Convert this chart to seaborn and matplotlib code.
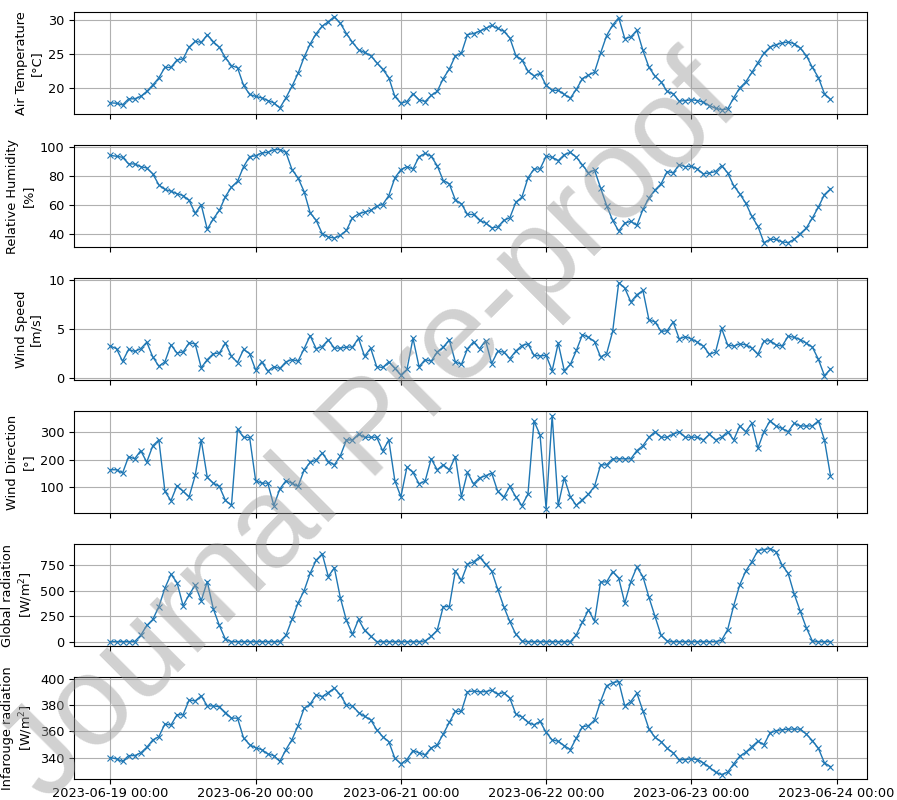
import numpy as np
import pandas as pd
import matplotlib
matplotlib.use("Agg")
import matplotlib.pyplot as plt
import matplotlib.dates as mdates
import seaborn as sns

# Hourly weather station record, 2023-06-19 00:00 to 2023-06-23 23:00
start = "2023-06-19 00:00"
n_hours = 120

air_temperature = [
    17.8, 17.75, 17.5, 18.4, 18.4, 18.75, 19.5, 20.45, 21.5, 23.05, 23.05, 24.15, 24.3, 26.05, 26.9, 26.75, 27.85, 26.85, 26.0, 24.5, 23.3, 23.0, 20.4, 19.05,
    18.75, 18.55, 18.15, 17.8, 17.05, 18.55, 20.25, 22.15, 24.55, 26.5, 28.05, 29.15, 29.8, 30.55, 29.55, 28.05, 26.75, 25.65, 25.25, 24.8, 23.75, 22.75, 21.55, 18.75,
    17.75, 18.0, 19.15, 18.25, 18.0, 18.9, 19.5, 21.4, 22.8, 24.75, 25.15, 27.9, 28.05, 28.4, 28.8, 29.25, 28.8, 28.4, 27.4, 24.8, 24.15, 22.5, 21.8, 22.15,
    20.4, 19.65, 19.65, 19.05, 18.5, 19.8, 21.4, 21.9, 22.35, 25.15, 27.75, 29.3, 30.4, 27.3, 27.55, 28.55, 25.55, 23.05, 21.75, 20.9, 19.5, 19.15, 18.05, 18.15,
    18.25, 18.15, 17.9, 17.4, 17.0, 16.8, 16.9, 18.55, 20.0, 20.9, 22.3, 23.75, 25.15, 26.05, 26.4, 26.65, 26.8, 26.55, 25.9, 24.8, 23.05, 21.55, 19.15, 18.3,
]

relative_humidity = [
    94.2, 93.6, 92.9, 88.3, 88.3, 86.4, 85.5, 81.4, 73.8, 70.6, 69.4, 67.6, 66.4, 63.0, 54.2, 60.0, 43.0, 50.3, 56.1, 65.7, 72.2, 76.3, 86.4, 93.3,
    94.0, 95.9, 96.3, 98.2, 98.2, 96.3, 84.4, 78.6, 69.2, 54.5, 49.2, 40.0, 37.7, 37.0, 38.8, 42.3, 51.0, 53.8, 54.9, 56.1, 59.1, 60.2, 66.4, 78.6,
    84.4, 86.4, 84.8, 93.3, 95.6, 93.6, 87.1, 76.8, 74.5, 63.4, 60.7, 53.3, 53.3, 49.2, 47.4, 44.1, 44.6, 49.2, 51.0, 61.8, 65.3, 78.6, 84.8, 84.8,
    93.6, 92.9, 90.6, 94.7, 96.3, 92.9, 87.6, 82.1, 84.1, 71.7, 59.5, 49.2, 41.8, 47.4, 48.5, 45.7, 56.8, 64.8, 70.3, 74.5, 83.0, 82.1, 87.8, 86.4,
    86.7, 84.8, 81.4, 82.1, 83.0, 87.1, 82.1, 73.3, 67.6, 61.1, 52.0, 45.1, 33.8, 36.1, 36.1, 34.3, 33.8, 36.1, 40.0, 43.9, 50.8, 58.4, 67.1, 71.0,
]

wind_speed = [
    3.27, 3.0, 1.73, 2.93, 2.73, 3.0, 3.67, 2.17, 1.23, 1.67, 3.4, 2.57, 2.67, 3.6, 3.5, 1.07, 1.9, 2.5, 2.57, 3.57, 2.23, 1.6, 2.93, 2.5,
    0.83, 1.67, 0.73, 1.17, 1.0, 1.67, 1.9, 1.73, 3.0, 4.33, 3.0, 3.23, 3.9, 3.07, 3.07, 3.17, 3.17, 4.07, 2.23, 3.07, 1.17, 1.1, 1.67, 1.0,
    0.33, 0.9, 4.07, 1.17, 1.9, 1.73, 2.67, 3.17, 3.9, 1.67, 1.4, 3.0, 3.7, 3.0, 3.83, 1.5, 2.73, 2.67, 2.0, 2.77, 3.33, 3.5, 2.33, 2.27,
    2.33, 0.77, 3.57, 0.77, 1.4, 2.83, 4.43, 4.17, 3.73, 2.17, 2.5, 4.77, 9.73, 9.17, 7.77, 8.5, 8.93, 5.93, 5.73, 4.77, 4.83, 5.73, 4.0, 4.23,
    4.0, 3.67, 3.27, 2.43, 2.67, 5.07, 3.4, 3.27, 3.5, 3.4, 3.07, 2.43, 3.77, 3.83, 3.4, 3.27, 4.27, 4.17, 3.93, 3.57, 3.17, 1.93, 0.27, 0.93,
]

wind_direction = [
    163, 163, 151, 211, 203, 233, 191, 251, 272, 84, 50, 105, 84, 64, 142, 272, 135, 114, 102, 51, 33, 311, 282, 281,
    123, 114, 114, 32, 93, 123, 114, 102, 161, 190, 199, 224, 193, 181, 214, 272, 272, 293, 282, 282, 282, 232, 272, 123,
    64, 173, 153, 112, 121, 203, 163, 181, 163, 211, 65, 153, 111, 133, 141, 151, 84, 62, 102, 64, 32, 74, 341, 290,
    21, 361, 33, 133, 64, 33, 54, 74, 102, 181, 181, 203, 203, 203, 203, 233, 251, 282, 302, 282, 282, 293, 302, 282,
    282, 282, 272, 293, 272, 282, 302, 272, 323, 302, 333, 242, 302, 342, 323, 314, 302, 333, 323, 323, 323, 342, 272, 141,
]

global_radiation = [
    0, 0, 0, 0, 0, 61, 158, 217, 343, 524, 660, 579, 352, 459, 553, 401, 589, 320, 158, 23, 0, 0, 0, 0,
    0, 0, 0, 0, 0, 61, 217, 378, 498, 669, 799, 860, 637, 724, 427, 207, 71, 217, 110, 52, 0, 0, 0, 0,
    0, 0, 0, 0, 6, 52, 110, 343, 343, 692, 601, 757, 781, 830, 757, 692, 514, 343, 197, 71, 6, 0, 0, 0,
    0, 0, 0, 0, 0, 68, 191, 310, 200, 585, 585, 686, 621, 378, 589, 731, 637, 433, 246, 61, 6, 0, 0, 0,
    0, 0, 0, 0, 0, 13, 116, 352, 556, 692, 783, 893, 902, 912, 880, 750, 669, 466, 298, 136, 6, 0, 0, 0,
]

infrared_radiation = [
    340.0, 339.0, 337.0, 341.5, 341.5, 343.6, 347.9, 353.5, 356.0, 365.7, 364.9, 372.8, 372.8, 384.0, 383.4, 387.2, 379.6, 379.6, 378.9, 374.5, 370.2, 370.2, 355.0, 349.9,
    347.4, 346.1, 342.8, 341.5, 337.0, 346.1, 353.7, 364.4, 377.6, 380.9, 388.0, 386.7, 389.8, 393.1, 388.0, 380.1, 379.6, 374.5, 371.5, 369.0, 361.3, 356.0, 352.2, 339.5,
    335.2, 338.5, 345.3, 343.6, 342.0, 347.4, 349.7, 358.0, 366.9, 375.3, 375.5, 390.3, 391.0, 390.3, 390.5, 391.6, 388.5, 389.8, 385.5, 373.3, 371.2, 366.9, 365.1, 367.7,
    359.3, 353.5, 352.5, 349.1, 346.1, 355.0, 363.6, 364.4, 368.7, 382.9, 394.9, 397.4, 398.2, 379.6, 382.9, 389.3, 375.8, 361.8, 355.5, 352.2, 347.1, 343.6, 338.2, 338.5,
    339.0, 338.5, 335.9, 332.6, 328.8, 327.0, 328.8, 335.2, 341.0, 344.1, 348.4, 352.5, 349.9, 358.8, 360.6, 361.3, 361.8, 361.8, 361.8, 358.0, 353.0, 347.1, 335.9, 333.1,
]

ylabels = [
    "Air Temperature\n[°C]",
    "Relative Humidity\n[%]",
    "Wind Speed\n[m/s]",
    "Wind Direction\n[°]",
    "Global radiation\n[W/m$^2$]",
    "Infarouge radiation\n[W/m$^2$]",
]
yticks = [
    [20, 25, 30],
    [40, 60, 80, 100],
    [0, 5, 10],
    [100, 200, 300],
    [0, 250, 500, 750],
    [340, 360, 380, 400],
]

times = pd.date_range(start, periods=n_hours, freq="h")
df = pd.DataFrame({
    "time": times,
    "temp": air_temperature,
    "rh": relative_humidity,
    "ws": wind_speed,
    "wd": wind_direction,
    "gr": global_radiation,
    "ir": infrared_radiation,
})
columns = ["temp", "rh", "ws", "wd", "gr", "ir"]

fs = 9.3
plt.rcParams["font.family"] = ["DejaVu Sans"]
plt.rcParams["font.size"] = fs

fig, axes = plt.subplots(6, 1, figsize=(8.97, 8.0), dpi=100, sharex=True)
fig.subplots_adjust(left=0.083, right=0.966, top=0.985, bottom=0.026, hspace=0.3)

for ax, col, lab, ticks in zip(axes, columns, ylabels, yticks):
    sns.lineplot(data=df, x="time", y=col, ax=ax, color="#1f77b4",
                 linewidth=1.0, marker="x", markersize=4,
                 markeredgecolor="#1f77b4", markeredgewidth=0.8)
    ax.set_ylabel(lab, fontsize=fs)
    ax.set_xlabel("")
    ax.set_yticks(ticks)
    ax.grid(True, color="#b0b0b0", linewidth=0.8)
    ax.tick_params(labelsize=fs)
    ax.margins(x=0.05, y=0.05)

axes[-1].xaxis.set_major_locator(mdates.DayLocator())
axes[-1].xaxis.set_major_formatter(mdates.DateFormatter("%Y-%m-%d %H:%M"))
axes[-1].tick_params(axis="x", pad=2)

# Diagonal "Journal Pre-proof" stamp across the whole page
fig.text(0.415, 0.46, "Journal Pre-proof", rotation=45, fontsize=92,
         color="#9a9a9a", alpha=0.45, ha="center", va="center",
         family=["Liberation Sans", "DejaVu Sans"], zorder=100)

fig.savefig("out.png", dpi=100)
